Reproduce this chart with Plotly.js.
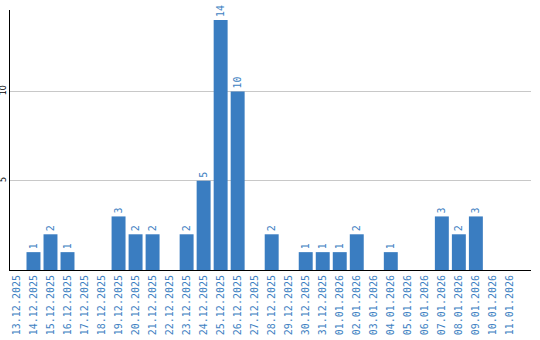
<!DOCTYPE html>
<html><head><meta charset="utf-8">
<script src="https://cdn.plot.ly/plotly-3.0.1.min.js"></script>
<style>html,body{margin:0;padding:0;background:#fff}#chart{width:540px;height:340px}</style>
</head><body><div id="chart"></div>
<script>
const dates = ["13.12.2025","14.12.2025","15.12.2025","16.12.2025","17.12.2025","18.12.2025","19.12.2025","20.12.2025","21.12.2025","22.12.2025","23.12.2025","24.12.2025","25.12.2025","26.12.2025","27.12.2025","28.12.2025","29.12.2025","30.12.2025","31.12.2025","01.01.2026","02.01.2026","03.01.2026","04.01.2026","05.01.2026","06.01.2026","07.01.2026","08.01.2026","09.01.2026","10.01.2026","11.01.2026"];
const counts = [0,1,2,1,0,0,3,2,2,0,2,5,14,10,0,2,0,1,1,1,2,0,1,0,0,3,2,3,0,0];
const yTicks = [5,10];
const yTickLabels = ["5","10"];

const barColor = "#3a7dc1";
const textColor = "#3d7fc2";
const labels = counts.map(v => v > 0 ? String(v) : "");

Plotly.newPlot("chart", [{
  type: "bar",
  x: dates,
  y: counts,
  marker: {color: barColor},
  text: labels,
  textposition: "outside",
  textangle: -90,
  textfont: {family: "DejaVu Sans Mono", size: 10, color: textColor},
  cliponaxis: false,
  hoverinfo: "none"
}], {
  width: 540, height: 340,
  margin: {l: 10, r: 9, t: 10, b: 70},
  paper_bgcolor: "#fff", plot_bgcolor: "#fff",
  bargap: 0.18,
  showlegend: false,
  xaxis: {
    type: "category",
    range: [-0.38, 30.24],
    tickangle: -90,
    tickfont: {family: "DejaVu Sans Mono", size: 10, color: textColor},
    showline: true, linecolor: "#000", linewidth: 1,
    showgrid: false, ticks: "", ticklen: 0,
    automargin: false
  },
  yaxis: {
    range: [0, 14.56],
    tickvals: yTicks, ticktext: yTickLabels,
    tickangle: -90,
    tickfont: {family: "DejaVu Sans", size: 8, color: "#000"},
    showline: true, linecolor: "#000", linewidth: 1,
    showgrid: true, gridcolor: "#c8c8c8", gridwidth: 1,
    zeroline: false, ticks: "",
    automargin: false
  }
}, {displayModeBar: false, staticPlot: true});
</script></body></html>
